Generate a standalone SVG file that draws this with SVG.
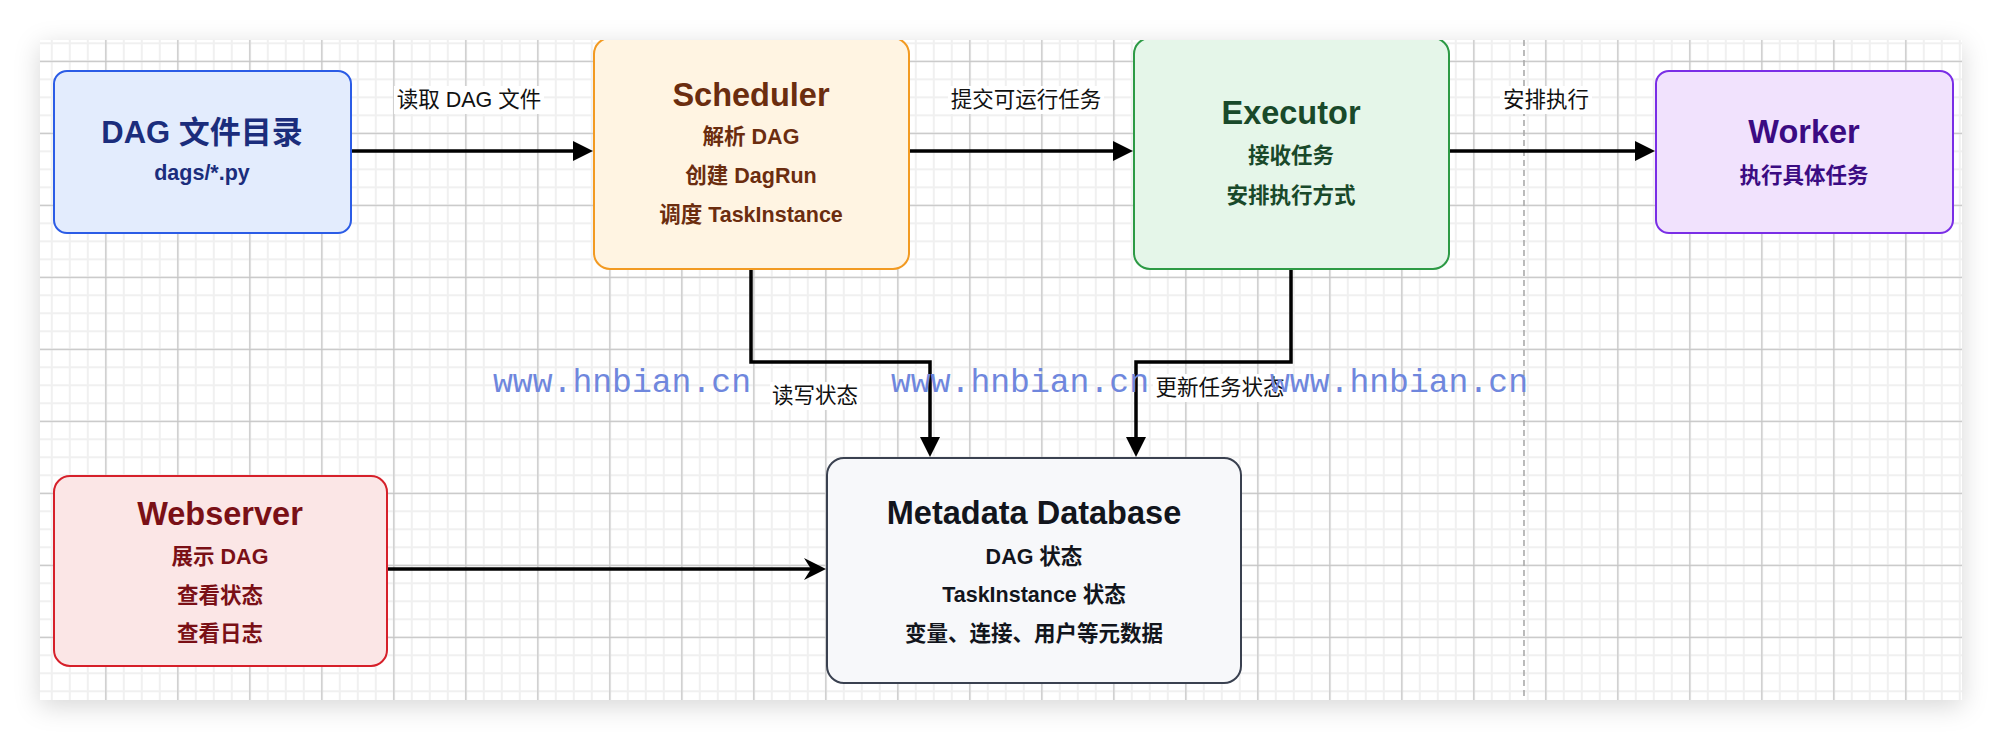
<svg xmlns="http://www.w3.org/2000/svg" width="2002" height="740" viewBox="0 0 2002 740">
  <defs>
    <style>
      text { font-family: "Liberation Sans", "Noto Sans CJK SC", sans-serif; text-anchor: middle; }
      .title { font-size: 32.5px; font-weight: bold; }
      .title-cjk { font-size: 31px; font-weight: bold; }
      .sub { font-size: 21.5px; font-weight: bold; }
      .lbl { font-size: 21.5px; fill: #111111; }
      .lblbg { fill: #ffffff; }
      .edge { fill: none; stroke: #000000; stroke-width: 3.5; }
      .wm { font-family: "Liberation Mono", monospace; font-size: 33px; fill: #6f87dd; text-anchor: start; }
      .box { stroke-width: 2; }
    </style>
    <filter id="shadow" x="-5%" y="-10%" width="110%" height="125%">
      <feDropShadow dx="0" dy="6" stdDeviation="13" flood-color="#000000" flood-opacity="0.16"/>
    </filter>
    <pattern id="minor" patternUnits="userSpaceOnUse" x="32.8" y="6.3" width="18" height="18">
      <rect x="0" y="0" width="2" height="18" fill="#f0f0f0"/>
      <rect x="0" y="0" width="18" height="2" fill="#f0f0f0"/>
    </pattern>
    <pattern id="major" patternUnits="userSpaceOnUse" x="33.3" y="-11.2" width="72" height="72">
      <rect x="0" y="0" width="1.2" height="72" fill="#c4c4c4"/>
      <rect x="0" y="0" width="72" height="1.2" fill="#c4c4c4"/>
    </pattern>
    <clipPath id="canvasClip">
      <rect x="40" y="40" width="1922" height="660"/>
    </clipPath>
    <marker id="block" markerUnits="userSpaceOnUse" viewBox="0 0 20 20" markerWidth="20" markerHeight="20" refX="10" refY="10" orient="auto">
      <path d="M0 0 L20 10 L0 20 Z" fill="#000000"/>
    </marker>
    <marker id="classic" markerUnits="userSpaceOnUse" viewBox="0 0 22 22" markerWidth="22" markerHeight="22" refX="11" refY="11" orient="auto">
      <path d="M0 0 L22 11 L0 22 L7 11 Z" fill="#000000"/>
    </marker>
  </defs>

  <rect x="0" y="0" width="2002" height="740" fill="#ffffff"/>
  <rect x="40" y="40" width="1922" height="660" fill="#ffffff" filter="url(#shadow)"/>

  <g clip-path="url(#canvasClip)">
    <rect x="40" y="40" width="1922" height="660" fill="url(#minor)"/>
    <rect x="40" y="40" width="1922" height="660" fill="url(#major)"/>
    <line x1="1524" y1="40" x2="1524" y2="700" stroke="#aaaaaa" stroke-width="1.6" stroke-dasharray="6 4"/>

    <g id="connectors">
      <path class="edge" d="M351 151 H583" marker-end="url(#block)"/>
      <path class="edge" d="M909 151 H1123" marker-end="url(#block)"/>
      <path class="edge" d="M1449 151 H1645" marker-end="url(#block)"/>
      <path class="edge" d="M751 269 V362 H930 V447" marker-end="url(#block)"/>
      <path class="edge" d="M1291 269 V362 H1136 V447" marker-end="url(#block)"/>
      <path class="edge" d="M387 569 H815" marker-end="url(#classic)"/>
      <g id="edge-labels">
        <rect class="lblbg" x="394" y="86" width="150" height="28"/>
        <text class="lbl" x="469" y="107">读取 DAG 文件</text>
        <rect class="lblbg" x="948" y="86" width="156" height="28"/>
        <text class="lbl" x="1026" y="107">提交可运行任务</text>
        <rect class="lblbg" x="1500" y="86" width="92" height="28"/>
        <text class="lbl" x="1546" y="107">安排执行</text>
        <rect class="lblbg" x="770" y="382" width="90" height="28"/>
        <text class="lbl" x="815" y="403">读写状态</text>
        <rect class="lblbg" x="1153" y="374" width="134" height="28"/>
        <text class="lbl" x="1220" y="395">更新任务状态</text>
      </g>
    </g>

    <g id="node-dag">
      <rect class="box" x="54" y="71" width="297" height="162" rx="13" fill="#e3ecfd" stroke="#2b5ce6"/>
      <text class="title-cjk" x="202" y="143" fill="#1b2d7c">DAG 文件目录</text>
      <text class="sub" x="202" y="180" fill="#1b2d7c">dags/*.py</text>
    </g>

    <g id="node-scheduler">
      <rect class="box" x="594" y="38" width="315" height="231" rx="16" fill="#fff4e2" stroke="#f29a22"/>
      <text class="title" x="751" y="106" fill="#6b2d0f">Scheduler</text>
      <text class="sub" x="751" y="144" fill="#6b2d0f">解析 DAG</text>
      <text class="sub" x="751" y="183" fill="#6b2d0f">创建 DagRun</text>
      <text class="sub" x="751" y="222" fill="#6b2d0f">调度 TaskInstance</text>
    </g>

    <g id="node-executor">
      <rect class="box" x="1134" y="38" width="315" height="231" rx="16" fill="#e5f6e9" stroke="#2d9a45"/>
      <text class="title" x="1291" y="124" fill="#19492a">Executor</text>
      <text class="sub" x="1291" y="163" fill="#19492a">接收任务</text>
      <text class="sub" x="1291" y="203" fill="#19492a">安排执行方式</text>
    </g>

    <g id="node-worker">
      <rect class="box" x="1656" y="71" width="297" height="162" rx="13" fill="#f1e2fd" stroke="#7a2ee6"/>
      <text class="title" x="1804" y="143" fill="#3b0b82">Worker</text>
      <text class="sub" x="1804" y="183" fill="#3b0b82">执行具体任务</text>
    </g>

    <g id="node-webserver">
      <rect class="box" x="54" y="476" width="333" height="190" rx="16" fill="#fbe6e6" stroke="#d6202a"/>
      <text class="title" x="220" y="525" fill="#7a1016">Webserver</text>
      <text class="sub" x="220" y="564" fill="#7a1016">展示 DAG</text>
      <text class="sub" x="220" y="603" fill="#7a1016">查看状态</text>
      <text class="sub" x="220" y="641" fill="#7a1016">查看日志</text>
    </g>

    <g id="node-metadata">
      <rect class="box" x="827" y="458" width="414" height="225" rx="17" fill="#f7f8fa" stroke="#3a4150"/>
      <text class="title" x="1034" y="524" fill="#12151c">Metadata Database</text>
      <text class="sub" x="1034" y="564" fill="#12151c">DAG 状态</text>
      <text class="sub" x="1034" y="602" fill="#12151c">TaskInstance 状态</text>
      <text class="sub" x="1034" y="641" fill="#12151c">变量、连接、用户等元数据</text>
    </g>

    <g id="watermark">
      <text class="wm" x="493" y="392" textLength="258" lengthAdjust="spacingAndGlyphs">www.hnbian.cn</text>
      <text class="wm" x="891" y="392" textLength="258" lengthAdjust="spacingAndGlyphs">www.hnbian.cn</text>
      <text class="wm" x="1270" y="392" textLength="258" lengthAdjust="spacingAndGlyphs">www.hnbian.cn</text>
    </g>
  </g>
</svg>
